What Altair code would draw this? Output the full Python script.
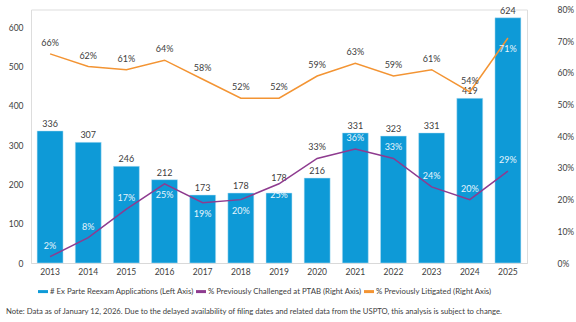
import altair as alt
import pandas as pd

years = [str(y) for y in range(2013, 2026)]
applications = [336, 307, 246, 212, 173, 178, 178, 216, 331, 323, 331, 419, 624]
ptab_pct = [2, 8, 17, 25, 19, 20, 25, 33, 36, 33, 24, 20, 29]
litigated_pct = [66, 62, 61, 64, 58, 52, 52, 59, 63, 59, 61, 54, 71]

S_BAR = "# Ex Parte Reexam Applications (Left Axis)"
S_PTAB = "% Previously Challenged at PTAB (Right Axis)"
S_LIT = "% Previously Litigated (Right Axis)"
series_names = [S_BAR, S_PTAB, S_LIT]
series_colors = ["#0E9AD7", "#8E3B8F", "#F39433"]

# label placement groups
ptab_below_years = ["2016", "2017", "2018", "2019"]
ptab_outside_bar_years = ["2020"]
lit_below_years = ["2025"]
bar_label_raised_years = ["2019"]

NOTE = ("Note: Data as of January 12, 2026. Due to the delayed availability of filing dates "
        "and related data from the USPTO, this analysis is subject to change.")

FONT = "Lato"
TXT = "#404040"
LIGHT = "#E8F5FC"

bars_df = pd.DataFrame({"year": years, "value": applications, "series": S_BAR})
bars_df["raised"] = bars_df["year"].isin(bar_label_raised_years)
lines_df = pd.concat([
    pd.DataFrame({"year": years, "value": ptab_pct, "series": S_PTAB}),
    pd.DataFrame({"year": years, "value": litigated_pct, "series": S_LIT}),
], ignore_index=True)
lines_df["label"] = lines_df["value"].astype(str) + "%"
lines_df["below"] = [
    (s == S_PTAB and y in ptab_below_years) or (s == S_LIT and y in lit_below_years)
    for s, y in zip(lines_df["series"], lines_df["year"])
]
lines_df["dark"] = [
    (s == S_LIT and y not in lit_below_years) or (s == S_PTAB and y in ptab_outside_bar_years)
    for s, y in zip(lines_df["series"], lines_df["year"])
]

x_enc = alt.X("year:N", sort=years,
              scale=alt.Scale(paddingInner=0.32, paddingOuter=0.16),
              axis=alt.Axis(title=None, labelAngle=0, ticks=False, domain=True,
                            domainColor="#D9D9D9", domainWidth=1, labelPadding=4,
                            labelFont=FONT, labelFontSize=8.5, labelColor=TXT))

color_enc = alt.Color("series:N",
                      scale=alt.Scale(domain=series_names, range=series_colors),
                      legend=alt.Legend(title=None, orient="none", direction="horizontal",
                                        legendX=7, legendY=277,
                                        symbolType="M-1,-0.3H1V0.3H-1Z", symbolSize=100,
                                        symbolStrokeWidth=0, labelFont=FONT, labelFontSize=7.8,
                                        labelColor=TXT, labelLimit=400, columnPadding=2,
                                        labelOffset=2))

y_left = alt.Y("value:Q", scale=alt.Scale(domain=[0, 645], nice=False),
               axis=alt.Axis(title=None, orient="left", values=[0, 100, 200, 300, 400, 500, 600],
                             grid=False, ticks=False, domain=False, labelPadding=8,
                             labelOverlap=False,
                             labelFont=FONT, labelFontSize=8.5, labelColor=TXT))

bars = alt.Chart(bars_df).mark_bar(stroke="#BFE3F5", strokeWidth=0.5).encode(
    x=x_enc, y=y_left, color=color_enc)
bar_text = alt.Chart(bars_df).transform_filter(~alt.datum.raised).mark_text(
    dy=-7, font=FONT, fontSize=9, color=TXT).encode(x=x_enc, y=y_left, text="value:Q")
bar_text_raised = alt.Chart(bars_df).transform_filter(alt.datum.raised).mark_text(
    dy=-15, font=FONT, fontSize=9, color=TXT).encode(x=x_enc, y=y_left, text="value:Q")

note = alt.Chart(pd.DataFrame({"note": [NOTE]})).mark_text(
    align="left", baseline="middle", font=FONT, fontSize=7.7, color=TXT).encode(
    x=alt.value(-25), y=alt.value(302.5), text="note:N")

left = alt.layer(bars, bar_text, bar_text_raised, note)

y_right = alt.Y("value:Q", scale=alt.Scale(domain=[0, 80], nice=False),
                axis=alt.Axis(title=None, orient="right", values=[0, 10, 20, 30, 40, 50, 60, 70, 80],
                              labelExpr="datum.value + '%'", grid=False, ticks=False, domain=False,
                              labelOverlap=False,
                              labelPadding=30, labelFont=FONT, labelFontSize=8.5, labelColor=TXT))

lines = alt.Chart(lines_df).mark_line(strokeWidth=1.5).encode(
    x=x_enc, y=y_right, color=color_enc)

def label_layer(below, dark, dy):
    cond = (alt.datum.below if below else ~alt.datum.below) & (alt.datum.dark if dark else ~alt.datum.dark)
    return alt.Chart(lines_df).transform_filter(cond).mark_text(
        dy=dy, font=FONT, fontSize=9, color=TXT if dark else LIGHT).encode(
        x=x_enc, y=y_right, text="label:N")

right = alt.layer(
    lines,
    label_layer(False, False, -11),
    label_layer(False, True, -11),
    label_layer(True, False, 11),
    label_layer(True, True, 11),
)

chart = alt.layer(left, right).resolve_scale(y="independent").properties(
    width=496, height=253.5,
    autosize=alt.AutoSizeParams(type="none"),
    padding={"left": 31, "top": 9.5, "right": 49, "bottom": 58.5},
).configure_view(stroke=None).configure(background="white")

chart.save("out.html", embed_options={"renderer": "svg", "actions": False})
